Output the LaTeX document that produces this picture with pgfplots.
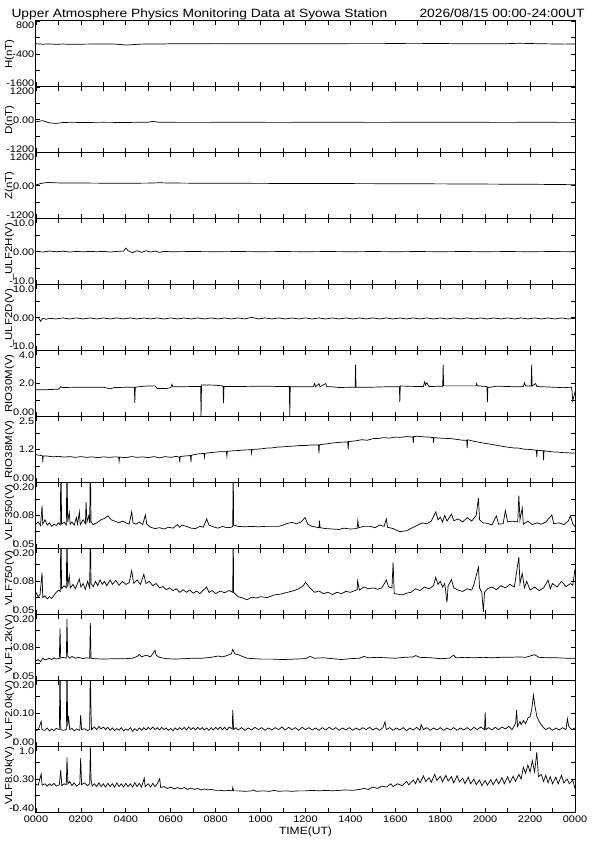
\documentclass[border=0pt]{standalone}
\usepackage{fontspec}
\setmainfont{Liberation Sans}[FakeStretch=1.15]
\usepackage{pgfplots}
\pgfplotsset{compat=1.18}

% tick labels: bottom one set a little above its tick, top one a little below
\newcommand\tlo[1]{\raisebox{0.6pt}[0pt][0pt]{#1}}
\newcommand\tmid[1]{\raisebox{-3.4pt}[0pt][0pt]{#1}}
\newcommand\thi[1]{\raisebox{-7.9pt}[0pt][0pt]{#1}}

\pgfplotsset{
  panel/.style={
    scale only axis, width=539pt, height=65.92pt,
    anchor=south west,
    xmin=0, xmax=24, xtick={0,...,24}, xticklabels={},
    enlargelimits=false,
    tick align=inside, major tick length=4.5pt,
    axis line style={line width=1pt},
    every tick/.style={black, line width=0.8pt},
    yticklabel style={font=\fontsize{9.5}{10}\selectfont, inner xsep=1.5pt, inner ysep=0pt},
    xticklabel style={font=\fontsize{9.5}{10}\selectfont},
    every axis y label/.style={at={(axis description cs:-0.049,0.5)}, rotate=90, anchor=center,
      font=\fontsize{10}{11}\selectfont},
    every axis plot post/.append style={black, line width=0.7pt, mark=none},
  },
}

\begin{document}
\begin{tikzpicture}
\fill[white] (0,0) rectangle (595pt,842pt);
\useasboundingbox (0,0) rectangle (595pt,842pt);

\node[anchor=base west, font=\fontsize{12}{12}\selectfont] at (8pt,824pt) {Upper Atmosphere Physics Monitoring Data at Syowa Station};
\node[anchor=base east, font=\fontsize{12}{12}\selectfont] at (588pt,824pt) {2026/08/15 00:00-24:00UT};

% H
\begin{axis}[panel, at={(36pt,755.08pt)}, ymin=-1600, ymax=800,
  ytick={-1600,-1000,-400,200,800}, yticklabels={\tlo{-1600},,\tmid{-400},,\thi{800}},
  ylabel={H(nT)}]
\addplot coordinates {(0,-30)(0.3,-45)(0.6,-35)(0.9,-50)(1.2,-40)(1.5,-48)(2,-45)(2.5,-40)(3,-35)(3.5,-40)(3.8,-60)(4.0,-78)(4.3,-62)(4.6,-45)(5,-35)(5.5,-40)(6,-30)(7,-32)(8,-25)(9,-30)(10,-30)(11,-28)(12,-30)(13,-28)(14,-25)(15,-25)(16,-22)(17,-25)(18,-18)(18.5,-25)(19,-30)(19.5,-28)(20,-30)(21,-25)(21.5,-12)(22,-20)(22.5,-30)(23,-35)(23.5,-42)(24,-40)};
\end{axis}

% D
\begin{axis}[panel, at={(36pt,689.16pt)}, ymin=-1200, ymax=1200,
  ytick={-1200,-600,0,600,1200}, yticklabels={\tlo{-1200},,\tmid{0.00},,\thi{1200}},
  ylabel={D(nT)}]
\addplot coordinates {(0,-70)(0.3,-30)(0.6,-110)(0.9,-130)(1.2,-95)(1.6,-90)(2,-95)(3,-90)(4,-95)(5,-85)(5.2,-55)(5.5,-90)(6,-90)(7,-92)(8,-90)(9,-88)(10,-90)(11,-92)(12,-88)(13,-90)(14,-88)(15,-92)(16,-90)(17,-86)(18,-90)(19,-88)(20,-90)(21,-92)(22,-88)(23,-90)(24,-92)};
\end{axis}

% Z
\begin{axis}[panel, at={(36pt,623.24pt)}, ymin=-1200, ymax=1200,
  ytick={-1200,-600,0,600,1200}, yticklabels={\tlo{-1200},,\tmid{0.00},,\thi{1200}},
  ylabel={Z(nT)}]
\addplot coordinates {(0,30)(0.2,80)(0.4,110)(0.6,125)(0.8,110)(1,105)(1.5,100)(2,100)(3,95)(4,92)(5,98)(5.5,110)(6,100)(7,95)(8,92)(9,90)(10,88)(11,85)(12,84)(13,82)(14,80)(15,78)(16,75)(17,72)(18,70)(19,66)(20,62)(21,58)(22,55)(23,48)(24,40)};
\end{axis}

% ULF2H
\begin{axis}[panel, at={(36pt,557.32pt)}, ymin=-10, ymax=10,
  ytick={-10,-5,0,5,10}, yticklabels={\tlo{-10.0},,\tmid{0.00},,\thi{10.0}},
  ylabel={\_ULF2H(V)}]
\addplot coordinates {(0,0.1)(0.3,-0.1)(0.6,0.2)(0.9,0)(1.2,0.15)(1.5,-0.1)(1.8,0.1)(2.1,-0.05)(2.4,0.1)(2.7,0)(3,0.1)(3.3,-0.1)(3.6,0.1)(3.9,0.2)(4.0,1.1)(4.1,0.3)(4.3,-0.3)(4.5,0.3)(4.7,-0.2)(4.9,0.3)(5.1,-0.1)(5.3,0.2)(5.5,-0.2)(5.7,0.1)(6,0)(7,0.05)(8,0)(9,0.05)(10,0)(11,0.05)(12,0)(13,0.05)(14,0)(15,0.05)(16,0)(17,0.05)(18,0)(19,0.05)(20,0)(21,0.05)(22,0)(23,0.05)(24,0)};
\end{axis}

% ULF2D
\begin{axis}[panel, at={(36pt,491.40pt)}, ymin=-10, ymax=10,
  ytick={-10,-5,0,5,10}, yticklabels={\tlo{-10.0},,\tmid{0.00},,\thi{10.0}},
  ylabel={\_ULF2D(V)}]
\addplot coordinates {(0,-0.1)(0.1,0.1)(0.2,-1.1)(0.3,-0.2)(0.45,-0.5)(0.6,-0.2)(0.9,-0.4)(1.2,-0.1)(1.5,-0.4)(1.8,-0.1)(2.1,-0.4)(2.4,-0.1)(2.7,-0.4)(3,-0.1)(3.3,-0.4)(3.6,-0.1)(3.9,-0.4)(4.2,-0.1)(4.5,-0.4)(4.8,-0.1)(5.1,-0.4)(5.4,-0.1)(5.7,-0.4)(6,-0.1)(6.3,-0.4)(6.6,-0.1)(6.9,-0.4)(7.2,-0.1)(7.5,-0.4)(7.8,-0.1)(8.1,-0.4)(8.4,-0.1)(8.7,-0.4)(9,-0.1)(9.3,-0.4)(9.6,0.1)(9.9,-0.4)(10.2,-0.1)(10.5,-0.4)(10.8,-0.1)(11.1,-0.4)(11.4,-0.1)(11.7,-0.4)(12,-0.1)(12.3,-0.4)(12.6,-0.1)(12.9,-0.4)(13.2,-0.1)(13.5,-0.4)(13.8,-0.1)(14.1,-0.4)(14.4,-0.1)(14.7,-0.4)(15,-0.1)(15.3,-0.4)(15.6,-0.1)(15.9,-0.4)(16.2,-0.1)(16.5,-0.4)(16.8,-0.1)(17.1,-0.4)(17.4,-0.1)(17.7,-0.4)(18,-0.1)(18.3,-0.4)(18.6,-0.1)(18.9,-0.4)(19.2,-0.1)(19.5,-0.4)(19.8,-0.1)(20.1,-0.4)(20.4,-0.1)(20.7,-0.4)(21,-0.1)(21.3,-0.4)(21.6,-0.1)(21.9,-0.4)(22.2,-0.1)(22.5,-0.4)(22.8,-0.1)(23.1,-0.4)(23.4,-0.1)(23.7,-0.4)(24,-0.2)};
\end{axis}

% RIO30M
\begin{axis}[panel, at={(36pt,425.48pt)}, ymin=0, ymax=4,
  ytick={0,1,2,3,4}, yticklabels={\tlo{0.00},,\tmid{2.0},,\thi{4.0}},
  ylabel={RIO30M(V)}]
\addplot coordinates {(0,1.62)(0.5,1.63)(1.0,1.66)(1.1,1.80)(1.2,1.76)(2,1.78)(3,1.78)(3.3,1.68)(3.5,1.76)(4.38,1.78)(4.4,0.83)(4.42,1.78)(4.9,1.85)(5.3,1.86)(5.4,1.70)(5.8,1.70)(6.0,1.75)(6.05,1.95)(6.1,1.80)(7.0,1.82)(7.33,1.82)(7.35,0.02)(7.37,1.92)(8.0,1.90)(8.33,1.85)(8.35,0.83)(8.37,1.82)(9,1.82)(10,1.84)(11,1.82)(11.28,1.82)(11.3,0.02)(11.32,1.80)(12,1.80)(12.35,1.80)(12.4,2.0)(12.45,1.8)(12.6,2.0)(12.65,1.8)(12.9,2.0)(12.95,1.8)(13.2,1.8)(13.5,1.76)(14.21,1.78)(14.23,3.15)(14.25,1.78)(15,1.78)(15.5,1.80)(16.18,1.80)(16.2,0.87)(16.22,1.85)(17,1.82)(17.25,1.82)(17.3,2.1)(17.35,1.9)(17.4,2.05)(17.5,1.82)(18.11,1.84)(18.13,3.15)(18.15,1.86)(19.0,1.86)(19.6,1.86)(19.62,2.0)(19.65,1.86)(20.08,1.82)(20.1,0.87)(20.12,1.75)(20.5,1.84)(21.5,1.80)(21.7,1.82)(21.75,2.05)(21.8,1.85)(22.05,1.85)(22.07,3.15)(22.09,1.85)(22.25,2.0)(22.3,1.82)(23,1.78)(23.5,1.75)(23.85,1.78)(23.9,0.95)(24,1.5)};
\end{axis}

% RIO38M
\begin{axis}[panel, at={(36pt,359.56pt)}, ymin=0, ymax=2.5,
  ytick={0,0.625,1.25,1.875,2.5}, yticklabels={\tlo{0.00},,\tmid{1.2},,\thi{2.5}},
  ylabel={RIO38M(V)}]
\addplot coordinates {(0,1.05)(0.25,1.02)(0.29,1.0)(0.3,0.76)(0.32,1.0)(0.5,1.00)(0.75,0.97)(1.0,0.99)(1.25,0.96)(1.5,0.98)(1.75,0.95)(2.0,0.98)(2.25,0.95)(2.5,0.97)(2.75,0.94)(3.0,0.97)(3.25,0.95)(3.5,0.97)(3.68,0.96)(3.7,0.80)(3.72,0.96)(4.0,0.94)(4.25,0.98)(4.5,0.95)(4.75,0.97)(5.0,0.94)(5.25,0.98)(5.5,0.93)(5.75,0.98)(6.0,0.95)(6.25,0.99)(6.38,0.96)(6.4,0.76)(6.42,0.98)(6.6,1.0)(6.88,1.02)(6.9,0.76)(6.92,1.03)(7.2,1.08)(7.48,1.10)(7.5,0.95)(7.52,1.10)(7.75,1.13)(8.0,1.15)(8.25,1.17)(8.48,1.16)(8.5,1.0)(8.52,1.18)(8.75,1.20)(9.0,1.21)(9.25,1.23)(9.58,1.24)(9.6,1.1)(9.62,1.25)(10.0,1.27)(10.25,1.30)(10.5,1.31)(10.75,1.34)(11.0,1.35)(11.25,1.37)(11.5,1.38)(11.75,1.40)(12.0,1.40)(12.25,1.42)(12.58,1.42)(12.6,1.10)(12.62,1.43)(13.0,1.47)(13.25,1.50)(13.5,1.52)(13.88,1.54)(13.9,1.25)(13.92,1.55)(14.25,1.58)(14.5,1.62)(14.75,1.60)(15.0,1.66)(15.25,1.67)(15.5,1.70)(15.75,1.68)(16.0,1.72)(16.25,1.71)(16.5,1.74)(16.78,1.72)(16.8,1.50)(16.82,1.74)(17.0,1.75)(17.25,1.73)(17.5,1.72)(17.68,1.70)(17.7,1.50)(17.72,1.70)(18.0,1.68)(18.25,1.67)(18.5,1.66)(18.75,1.63)(19.0,1.60)(19.18,1.60)(19.2,1.30)(19.22,1.62)(19.5,1.56)(19.75,1.52)(20.0,1.48)(20.25,1.45)(20.5,1.41)(20.75,1.37)(21.0,1.34)(21.25,1.31)(21.5,1.30)(21.75,1.26)(22.0,1.25)(22.28,1.22)(22.3,0.96)(22.32,1.22)(22.58,1.20)(22.6,0.85)(22.62,1.20)(23.0,1.16)(23.25,1.15)(23.5,1.13)(23.75,1.12)(24,1.11)};
\end{axis}

% VLF350
\begin{axis}[panel, at={(36pt,293.64pt)}, ymin=0.05, ymax=0.2,
  ytick={0.05,0.0875,0.125,0.1625,0.2}, yticklabels={\tlo{0.05},,\tmid{0.08},,\thi{0.20}},
  ylabel={\_VLF350(V)}]
\addplot coordinates {(0,0.105)(0.1,0.11)(0.2,0.102)(0.27,0.147)(0.3,0.105)(0.4,0.115)(0.5,0.103)(0.6,0.108)(0.7,0.100)(0.8,0.105)(0.9,0.102)(1.0,0.108)(1.08,0.103)(1.11,0.25)(1.14,0.105)(1.25,0.11)(1.35,0.103)(1.38,0.25)(1.41,0.11)(1.48,0.132)(1.52,0.105)(1.6,0.11)(1.7,0.103)(1.8,0.12)(1.85,0.105)(1.93,0.133)(1.97,0.104)(2.1,0.115)(2.2,0.106)(2.23,0.155)(2.27,0.11)(2.35,0.124)(2.39,0.108)(2.42,0.25)(2.45,0.11)(2.55,0.104)(2.7,0.108)(2.9,0.115)(3.05,0.118)(3.2,0.124)(3.35,0.115)(3.5,0.112)(3.7,0.108)(3.85,0.112)(4.0,0.108)(4.15,0.105)(4.26,0.133)(4.32,0.108)(4.45,0.105)(4.6,0.11)(4.75,0.104)(4.87,0.126)(4.93,0.105)(5.1,0.098)(5.3,0.095)(5.5,0.097)(5.7,0.094)(5.9,0.098)(6.1,0.096)(6.3,0.104)(6.4,0.098)(6.5,0.103)(6.7,0.1)(6.9,0.096)(7.1,0.095)(7.3,0.1)(7.45,0.098)(7.6,0.117)(7.7,0.103)(7.9,0.099)(8.1,0.096)(8.3,0.1)(8.5,0.097)(8.7,0.098)(8.76,0.1)(8.78,0.25)(8.80,0.103)(9.0,0.1)(9.3,0.099)(9.6,0.1)(9.9,0.099)(10.2,0.1)(10.5,0.1)(10.8,0.1)(11.0,0.103)(11.2,0.107)(11.4,0.109)(11.6,0.106)(11.8,0.11)(11.98,0.12)(12.1,0.105)(12.3,0.1)(12.6,0.097)(12.62,0.113)(12.65,0.097)(12.9,0.095)(13.2,0.094)(13.5,0.093)(13.7,0.096)(14.0,0.094)(14.3,0.095)(14.33,0.113)(14.37,0.097)(14.6,0.1)(14.9,0.1)(15.1,0.097)(15.3,0.103)(15.5,0.1)(15.6,0.117)(15.65,0.098)(15.9,0.095)(16.2,0.088)(16.5,0.09)(16.8,0.098)(17.0,0.103)(17.2,0.108)(17.4,0.106)(17.6,0.112)(17.8,0.133)(17.9,0.115)(18.0,0.121)(18.1,0.110)(18.2,0.125)(18.3,0.112)(18.5,0.128)(18.6,0.113)(18.8,0.117)(19.0,0.110)(19.2,0.120)(19.4,0.112)(19.6,0.125)(19.7,0.164)(19.75,0.115)(19.9,0.108)(20.1,0.107)(20.3,0.103)(20.5,0.124)(20.6,0.105)(20.8,0.106)(20.9,0.136)(21.0,0.11)(21.2,0.112)(21.45,0.11)(21.5,0.17)(21.55,0.115)(21.65,0.142)(21.7,0.105)(21.9,0.112)(22.1,0.104)(22.3,0.108)(22.5,0.105)(22.7,0.11)(22.97,0.126)(23.05,0.106)(23.3,0.108)(23.5,0.104)(23.7,0.112)(23.8,0.124)(23.9,0.105)(24,0.100)};
\end{axis}

% VLF750
\begin{axis}[panel, at={(36pt,227.72pt)}, ymin=0.05, ymax=0.2,
  ytick={0.05,0.0875,0.125,0.1625,0.2}, yticklabels={\tlo{0.05},,\tmid{0.08},,\thi{0.20}},
  ylabel={\_VLF750(V)}]
\addplot coordinates {(0,0.10)(0.1,0.09)(0.18,0.095)(0.27,0.145)(0.3,0.088)(0.4,0.092)(0.5,0.085)(0.6,0.09)(0.7,0.086)(0.8,0.093)(0.9,0.1)(1.0,0.105)(1.08,0.102)(1.11,0.25)(1.14,0.108)(1.25,0.115)(1.35,0.11)(1.38,0.25)(1.41,0.112)(1.48,0.138)(1.53,0.11)(1.65,0.118)(1.75,0.108)(1.85,0.12)(1.93,0.13)(2.0,0.112)(2.1,0.12)(2.2,0.107)(2.3,0.125)(2.39,0.11)(2.42,0.25)(2.45,0.12)(2.55,0.113)(2.65,0.125)(2.75,0.115)(2.85,0.128)(2.95,0.118)(3.05,0.125)(3.15,0.115)(3.3,0.128)(3.4,0.118)(3.55,0.127)(3.7,0.116)(3.85,0.125)(4.0,0.118)(4.15,0.122)(4.26,0.149)(4.35,0.12)(4.5,0.128)(4.65,0.118)(4.8,0.141)(4.9,0.12)(5.05,0.125)(5.2,0.115)(5.35,0.12)(5.5,0.11)(5.65,0.113)(5.8,0.106)(5.95,0.11)(6.1,0.104)(6.25,0.108)(6.4,0.1)(6.55,0.106)(6.7,0.1)(6.85,0.105)(7.0,0.098)(7.15,0.103)(7.3,0.097)(7.45,0.105)(7.6,0.112)(7.7,0.1)(7.85,0.104)(8.0,0.097)(8.2,0.103)(8.4,0.099)(8.6,0.104)(8.76,0.1)(8.78,0.25)(8.8,0.1)(9.0,0.09)(9.2,0.087)(9.4,0.083)(9.6,0.089)(9.8,0.087)(10.0,0.09)(10.3,0.088)(10.6,0.094)(10.9,0.096)(11.2,0.1)(11.5,0.104)(11.7,0.108)(11.9,0.115)(12.0,0.123)(12.2,0.11)(12.4,0.1)(12.6,0.103)(12.8,0.097)(13.0,0.1)(13.2,0.095)(13.4,0.1)(13.6,0.097)(13.8,0.102)(14.0,0.1)(14.3,0.106)(14.32,0.126)(14.4,0.105)(14.6,0.112)(14.8,0.108)(15.0,0.11)(15.2,0.107)(15.4,0.11)(15.6,0.128)(15.7,0.112)(15.85,0.11)(15.9,0.168)(15.95,0.097)(16.1,0.096)(16.3,0.094)(16.5,0.098)(16.7,0.1)(16.9,0.108)(17.1,0.104)(17.3,0.112)(17.5,0.108)(17.7,0.115)(17.8,0.134)(17.9,0.118)(18.0,0.125)(18.1,0.112)(18.2,0.12)(18.3,0.077)(18.35,0.115)(18.5,0.129)(18.6,0.11)(18.8,0.105)(19.0,0.102)(19.2,0.108)(19.4,0.105)(19.5,0.118)(19.7,0.157)(19.75,0.11)(19.85,0.1)(19.92,0.055)(19.97,0.1)(20.1,0.108)(20.3,0.112)(20.5,0.106)(20.7,0.115)(20.9,0.11)(21.1,0.118)(21.3,0.112)(21.5,0.18)(21.55,0.12)(21.65,0.143)(21.75,0.11)(21.85,0.125)(22.0,0.105)(22.2,0.112)(22.4,0.104)(22.6,0.11)(22.8,0.128)(22.9,0.108)(23.0,0.12)(23.2,0.112)(23.4,0.125)(23.6,0.113)(23.8,0.12)(23.9,0.116)(24,0.153)};
\end{axis}

% VLF1.2k
\begin{axis}[panel, at={(36pt,161.80pt)}, ymin=0.05, ymax=0.2,
  ytick={0.05,0.0875,0.125,0.1625,0.2}, yticklabels={\tlo{0.05},,\tmid{0.08},,\thi{0.20}},
  ylabel={\_VLF1.2k(V)}]
\addplot coordinates {(0,0.094)(0.1,0.097)(0.2,0.092)(0.3,0.1)(0.4,0.096)(0.5,0.098)(0.6,0.1)(0.7,0.097)(0.8,0.101)(0.9,0.098)(1.04,0.1)(1.07,0.168)(1.1,0.1)(1.2,0.102)(1.35,0.1)(1.38,0.189)(1.41,0.105)(1.5,0.1)(1.6,0.104)(1.75,0.1)(1.9,0.102)(2.1,0.099)(2.25,0.101)(2.39,0.1)(2.42,0.18)(2.45,0.1)(2.6,0.099)(3.0,0.098)(3.5,0.099)(4.0,0.099)(4.3,0.1)(4.5,0.104)(4.6,0.109)(4.7,0.103)(4.9,0.107)(5.1,0.103)(5.3,0.118)(5.35,0.107)(5.5,0.102)(5.8,0.099)(6.2,0.098)(6.6,0.099)(7.0,0.1)(7.4,0.1)(7.8,0.102)(8.1,0.105)(8.3,0.103)(8.5,0.106)(8.7,0.11)(8.76,0.12)(8.85,0.11)(9.0,0.108)(9.2,0.104)(9.4,0.1)(9.7,0.099)(10.0,0.098)(10.5,0.098)(11.0,0.097)(11.5,0.098)(12.0,0.099)(12.2,0.104)(12.4,0.1)(12.8,0.101)(13.2,0.099)(13.6,0.097)(14.0,0.099)(14.4,0.1)(14.6,0.104)(14.8,0.101)(15.2,0.102)(15.6,0.101)(16.0,0.1)(16.4,0.102)(16.8,0.103)(16.9,0.106)(17.1,0.102)(17.6,0.101)(18.0,0.099)(18.4,0.1)(18.6,0.107)(18.7,0.101)(19.1,0.102)(19.5,0.101)(19.9,0.102)(20.3,0.101)(20.7,0.102)(21.1,0.102)(21.5,0.103)(21.8,0.102)(22.2,0.108)(22.4,0.102)(22.8,0.101)(23.2,0.101)(23.6,0.1)(24,0.1)};
\end{axis}

% VLF2.0k
\begin{axis}[panel, at={(36pt,95.88pt)}, ymin=0, ymax=0.2,
  ytick={0,0.05,0.1,0.15,0.2}, yticklabels={\tlo{0.00},,\tmid{0.10},,\thi{0.20}},
  ylabel={\_VLF2.0k(V)}]
\addplot coordinates {(0,0.047)(0.1,0.05)(0.23,0.075)(0.27,0.05)(0.4,0.048)(0.5,0.055)(0.6,0.046)(0.7,0.052)(0.8,0.047)(0.9,0.054)(1.04,0.05)(1.07,0.25)(1.1,0.05)(1.2,0.048)(1.35,0.05)(1.38,0.25)(1.41,0.06)(1.45,0.092)(1.5,0.05)(1.6,0.054)(1.7,0.046)(1.8,0.052)(1.95,0.048)(1.99,0.095)(2.03,0.05)(2.15,0.053)(2.3,0.047)(2.39,0.05)(2.42,0.25)(2.44,0.132)(2.47,0.05)(2.6,0.058)(2.7,0.05)(2.8,0.06)(2.9,0.052)(3.0,0.058)(3.1,0.05)(3.2,0.057)(3.3,0.048)(3.4,0.055)(3.5,0.047)(3.6,0.053)(3.7,0.048)(3.8,0.056)(3.9,0.046)(4.0,0.052)(4.1,0.048)(4.2,0.056)(4.3,0.045)(4.4,0.053)(4.5,0.047)(4.6,0.055)(4.7,0.048)(4.8,0.056)(4.9,0.049)(5.0,0.057)(5.1,0.05)(5.2,0.058)(5.3,0.05)(5.4,0.056)(5.5,0.049)(5.6,0.057)(5.7,0.05)(5.8,0.055)(5.9,0.048)(6.0,0.054)(6.1,0.047)(6.2,0.055)(6.3,0.049)(6.4,0.056)(6.5,0.05)(6.6,0.057)(6.7,0.049)(6.8,0.058)(6.9,0.05)(7.0,0.056)(7.1,0.049)(7.2,0.057)(7.3,0.05)(7.4,0.056)(7.5,0.049)(7.6,0.055)(7.7,0.048)(7.8,0.056)(7.9,0.049)(8.0,0.057)(8.1,0.05)(8.2,0.058)(8.3,0.05)(8.4,0.057)(8.5,0.049)(8.6,0.058)(8.74,0.052)(8.76,0.109)(8.8,0.05)(8.9,0.056)(9.0,0.049)(9.15,0.056)(9.3,0.048)(9.45,0.055)(9.6,0.049)(9.75,0.057)(9.9,0.05)(10.05,0.056)(10.2,0.048)(10.35,0.055)(10.5,0.049)(10.65,0.056)(10.8,0.05)(10.95,0.058)(11.1,0.049)(11.25,0.057)(11.4,0.05)(11.55,0.056)(11.7,0.048)(11.85,0.057)(12.0,0.05)(12.15,0.056)(12.3,0.049)(12.45,0.055)(12.6,0.048)(12.75,0.056)(12.9,0.049)(13.05,0.057)(13.2,0.05)(13.35,0.056)(13.5,0.048)(13.65,0.055)(13.8,0.049)(13.95,0.056)(14.1,0.048)(14.25,0.055)(14.4,0.049)(14.55,0.056)(14.7,0.05)(14.85,0.057)(15.0,0.049)(15.15,0.055)(15.3,0.048)(15.45,0.056)(15.54,0.074)(15.6,0.05)(15.75,0.056)(15.9,0.048)(16.05,0.055)(16.2,0.049)(16.35,0.056)(16.5,0.047)(16.65,0.055)(16.8,0.049)(16.95,0.057)(17.1,0.048)(17.15,0.065)(17.25,0.05)(17.4,0.056)(17.55,0.048)(17.7,0.055)(17.85,0.049)(18.0,0.056)(18.15,0.048)(18.3,0.055)(18.45,0.049)(18.6,0.056)(18.75,0.048)(18.9,0.055)(19.05,0.049)(19.2,0.056)(19.35,0.048)(19.5,0.057)(19.65,0.05)(19.8,0.058)(19.97,0.05)(20.0,0.102)(20.03,0.05)(20.15,0.056)(20.3,0.049)(20.45,0.057)(20.6,0.05)(20.75,0.058)(20.9,0.052)(21.05,0.06)(21.2,0.05)(21.36,0.07)(21.4,0.109)(21.44,0.06)(21.55,0.075)(21.6,0.065)(21.7,0.078)(21.8,0.068)(21.9,0.085)(22.0,0.09)(22.07,0.11)(22.15,0.155)(22.22,0.12)(22.3,0.09)(22.4,0.075)(22.5,0.065)(22.6,0.056)(22.7,0.05)(22.85,0.056)(23.0,0.048)(23.15,0.055)(23.3,0.049)(23.45,0.056)(23.6,0.05)(23.66,0.083)(23.72,0.06)(23.85,0.05)(24,0.055)};
\end{axis}

% VLF8.0k
\begin{axis}[panel, at={(36pt,29.96pt)}, ymin=-0.4, ymax=1.0,
  ytick={-0.4,-0.05,0.3,0.65,1.0}, yticklabels={\tlo{-0.40},,\tmid{0.30},,\thi{1.0}},
  ylabel={\_VLF8.0k(V)},
  xticklabels={0000,,0200,,0400,,0600,,0800,,1000,,1200,,1400,,1600,,1800,,2000,,2200,,0000},
  xlabel={TIME(UT)},
  xlabel style={at={(axis description cs:0.5,-0.303)}, anchor=center, font=\fontsize{10.5}{11}\selectfont}]
\addplot coordinates {(0,0.19)(0.1,0.17)(0.23,0.41)(0.27,0.17)(0.4,0.2)(0.5,0.15)(0.6,0.2)(0.7,0.16)(0.8,0.21)(0.9,0.15)(1.04,0.18)(1.1,0.49)(1.15,0.16)(1.25,0.2)(1.35,0.18)(1.38,0.76)(1.42,0.2)(1.5,0.25)(1.6,0.16)(1.7,0.22)(1.8,0.15)(1.95,0.2)(1.99,0.75)(2.03,0.18)(2.15,0.22)(2.3,0.16)(2.39,0.2)(2.42,0.99)(2.45,0.3)(2.5,0.15)(2.6,0.2)(2.7,0.14)(2.8,0.22)(2.9,0.14)(3.0,0.2)(3.1,0.13)(3.2,0.21)(3.3,0.14)(3.4,0.2)(3.5,0.13)(3.6,0.22)(3.7,0.14)(3.8,0.2)(3.9,0.13)(4.0,0.21)(4.1,0.14)(4.2,0.2)(4.3,0.13)(4.4,0.22)(4.5,0.14)(4.6,0.21)(4.7,0.13)(4.82,0.32)(4.86,0.14)(5.0,0.2)(5.1,0.13)(5.2,0.21)(5.3,0.14)(5.4,0.2)(5.51,0.31)(5.55,0.12)(5.7,0.14)(5.85,0.1)(6.0,0.13)(6.15,0.09)(6.3,0.12)(6.45,0.09)(6.6,0.12)(6.75,0.08)(6.9,0.11)(7.05,0.08)(7.2,0.1)(7.35,0.07)(7.5,0.09)(7.65,0.07)(7.8,0.08)(8.0,0.06)(8.2,0.06)(8.4,0.05)(8.6,0.06)(8.74,0.05)(8.76,0.12)(8.8,0.05)(9.0,0.05)(9.3,0.04)(9.6,0.05)(9.7,0.07)(9.8,0.04)(10.1,0.05)(10.4,0.04)(10.6,0.06)(10.8,0.04)(11.1,0.05)(11.4,0.04)(11.7,0.05)(12.0,0.05)(12.3,0.06)(12.6,0.05)(12.9,0.06)(13.2,0.05)(13.5,0.06)(13.8,0.07)(14.1,0.06)(14.4,0.08)(14.6,0.1)(14.8,0.08)(15.0,0.13)(15.2,0.1)(15.4,0.15)(15.6,0.13)(15.8,0.2)(15.9,0.14)(16.1,0.2)(16.3,0.16)(16.5,0.25)(16.6,0.18)(16.8,0.28)(16.9,0.2)(17.0,0.32)(17.1,0.22)(17.25,0.37)(17.35,0.25)(17.5,0.33)(17.6,0.23)(17.75,0.4)(17.85,0.27)(18.0,0.36)(18.1,0.24)(18.25,0.38)(18.35,0.26)(18.5,0.35)(18.6,0.22)(18.75,0.37)(18.85,0.24)(19.0,0.32)(19.1,0.2)(19.25,0.34)(19.35,0.2)(19.5,0.3)(19.6,0.18)(19.75,0.28)(19.85,0.16)(20.0,0.27)(20.1,0.17)(20.25,0.29)(20.35,0.18)(20.5,0.3)(20.6,0.2)(20.75,0.33)(20.85,0.2)(21.0,0.35)(21.1,0.22)(21.25,0.36)(21.35,0.25)(21.5,0.4)(21.6,0.3)(21.7,0.55)(21.8,0.42)(21.9,0.6)(22.0,0.45)(22.1,0.69)(22.2,0.45)(22.3,0.87)(22.37,0.35)(22.5,0.4)(22.6,0.25)(22.7,0.38)(22.8,0.22)(22.9,0.35)(23.0,0.2)(23.15,0.34)(23.25,0.2)(23.4,0.38)(23.5,0.22)(23.65,0.3)(23.75,0.2)(23.9,0.28)(24,0.1)};
\end{axis}
\end{tikzpicture}
\end{document}
